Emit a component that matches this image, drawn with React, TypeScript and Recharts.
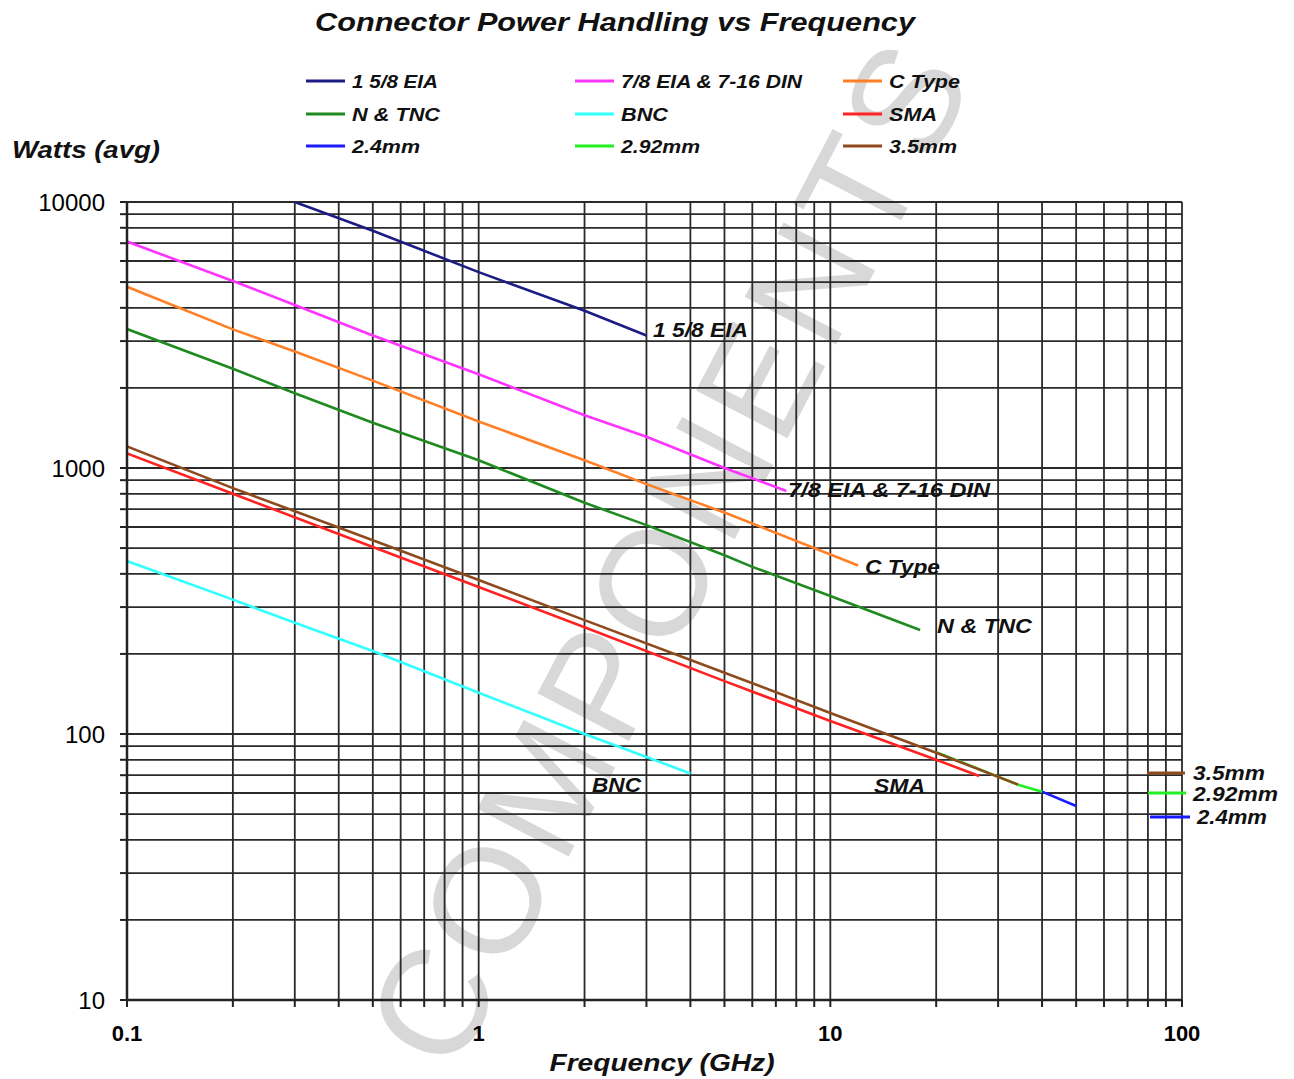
import { LineChart, Line, XAxis, YAxis, CartesianGrid } from 'recharts';

const xTicks = [0.1, 0.2, 0.3, 0.4, 0.5, 0.6, 0.7, 0.8, 0.9, 1, 2, 3, 4, 5, 6, 7, 8, 9, 10, 20, 30, 40, 50, 60, 70, 80, 90, 100];
const yTicks = [10, 20, 30, 40, 50, 60, 70, 80, 90, 100, 200, 300, 400, 500, 600, 700, 800, 900, 1000, 2000, 3000, 4000, 5000, 6000, 7000, 8000, 9000, 10000];
const xLabels = [0.1, 1, 10, 100];
const yLabels = [10, 100, 1000, 10000];

// frequency (GHz) / watts (avg)
const eia158 = [
  { f: 0.3, w: 10000 }, { f: 0.5, w: 7800 }, { f: 1, w: 5450 }, { f: 2, w: 3900 }, { f: 3, w: 3150 },
];
const eia78 = [
  { f: 0.1, w: 7100 }, { f: 0.2, w: 5050 }, { f: 0.3, w: 4100 }, { f: 0.5, w: 3150 }, { f: 1, w: 2250 },
  { f: 2, w: 1580 }, { f: 3, w: 1310 }, { f: 5, w: 1000 }, { f: 7.5, w: 820 },
];
const cType = [
  { f: 0.1, w: 4800 }, { f: 0.2, w: 3320 }, { f: 0.3, w: 2740 }, { f: 0.5, w: 2130 }, { f: 1, w: 1495 },
  { f: 2, w: 1070 }, { f: 3, w: 870 }, { f: 5, w: 680 }, { f: 12, w: 430 },
];
const nTnc = [
  { f: 0.1, w: 3330 }, { f: 0.2, w: 2360 }, { f: 0.3, w: 1910 }, { f: 0.5, w: 1480 }, { f: 1, w: 1070 },
  { f: 2, w: 740 }, { f: 3, w: 610 }, { f: 5, w: 470 }, { f: 6, w: 425 }, { f: 10, w: 330 }, { f: 18, w: 246 },
];
const bnc = [
  { f: 0.1, w: 447 }, { f: 0.2, w: 320 }, { f: 0.3, w: 262 }, { f: 0.5, w: 205 }, { f: 1, w: 143 },
  { f: 2, w: 100 }, { f: 3, w: 82 }, { f: 4, w: 71 },
];
const sma = [
  { f: 0.1, w: 1135 }, { f: 0.2, w: 800 }, { f: 0.5, w: 505 }, { f: 1, w: 357 }, { f: 2, w: 252 },
  { f: 5, w: 158 }, { f: 10, w: 112 }, { f: 20, w: 80 }, { f: 26.5, w: 69.5 },
];
const mm35 = [
  { f: 0.1, w: 1205 }, { f: 0.2, w: 840 }, { f: 0.5, w: 535 }, { f: 1, w: 379 }, { f: 2, w: 268 },
  { f: 5, w: 170 }, { f: 10, w: 120 }, { f: 20, w: 85 }, { f: 34.2, w: 64.5 },
];
const mm292 = [
  { f: 20, w: 85.5 }, { f: 34.2, w: 64.5 }, { f: 40, w: 60.7 },
];
const mm24 = [
  { f: 40, w: 60.7 }, { f: 50, w: 53.6 },
];

const series = [
  { name: 'BNC', color: '#33ffff', data: bnc },
  { name: 'N & TNC', color: '#1f8a1f', data: nTnc },
  { name: 'C Type', color: '#ff7f27', data: cType },
  { name: '7/8 EIA & 7-16 DIN', color: '#ff33ff', data: eia78 },
  { name: '1 5/8 EIA', color: '#1c1c84', data: eia158 },
  { name: 'SMA', color: '#ff2222', data: sma },
  { name: '2.4mm', color: '#1a1aff', data: mm24 },
  { name: '2.92mm', color: '#22ee22', data: mm292 },
  { name: '3.5mm', color: '#8e4a1c', data: mm35 },
];

const legendRows = [
  ['1 5/8 EIA', '7/8 EIA & 7-16 DIN', 'C Type'],
  ['N & TNC', 'BNC', 'SMA'],
  ['2.4mm', '2.92mm', '3.5mm'],
];

const FONT = '"Liberation Sans", Arial, sans-serif';
const colorOf = (n: string) => series.find((s) => s.name === n)!.color;

function T({ x, y, w, size, children, anchor }: any) {
  return (
    <text x={x} y={y} fontSize={size} fontWeight="bold" fontStyle="italic" fontFamily={FONT}
      fill="#111" textLength={w} lengthAdjust="spacingAndGlyphs" textAnchor={anchor || 'start'}>
      {children}
    </text>
  );
}

const legendX = [306, 575, 843];
const legendW = [[86, 181, 71], [88, 47, 48], [68, 79, 68]];
const legendY = [81, 114, 146];

export default function App() {
  return (
    <div style={{ position: 'fixed', left: 0, top: 0, width: 1294, height: 1079, background: '#fff', overflow: 'hidden' }}>
      <svg width={1294} height={1079} style={{ position: 'absolute', left: 0, top: 0 }}>
        <text x={0} y={0} transform="translate(679,560) rotate(-62.4)" textAnchor="middle" dominantBaseline="middle"
          fontFamily={FONT} fontSize={150} fill="#d8d8d8" textLength={1125} lengthAdjust="spacing">
          COMPONENTS
        </text>
      </svg>
      <div style={{ position: 'absolute', left: 0, top: 0 }}>
        <LineChart width={1294} height={1079} margin={{ top: 202, right: 112, bottom: 39, left: 7 }}>
          <CartesianGrid stroke="#2a2a2a" strokeWidth={1.8} />
          <XAxis dataKey="f" type="number" scale="log" domain={[0.1, 100]} ticks={xTicks} allowDataOverflow
            height={40} tickSize={7} tickMargin={18} interval={0}
            tickFormatter={(v: number) => (xLabels.includes(v) ? String(v) : '')}
            tick={{ fontSize: 22, fontWeight: 'bold', fill: '#000', fontFamily: FONT }}
            axisLine={{ stroke: '#222', strokeWidth: 2.5 }} tickLine={{ stroke: '#222', strokeWidth: 2 }} />
          <YAxis dataKey="w" type="number" scale="log" domain={[10, 10000]} ticks={yTicks} allowDataOverflow
            width={120} tickSize={7} tickMargin={15} interval={0}
            tickFormatter={(v: number) => (yLabels.includes(v) ? String(v) : '')}
            tick={{ fontSize: 24, fill: '#000', fontFamily: FONT }}
            axisLine={{ stroke: '#222', strokeWidth: 2.5 }} tickLine={{ stroke: '#222', strokeWidth: 2 }} />
          {series.map((s) => (
            <Line key={s.name} data={s.data} dataKey="w" type="linear" stroke={s.color} strokeWidth={2.6}
              dot={false} isAnimationActive={false} />
          ))}
        </LineChart>
      </div>
      <svg width={1294} height={1079} style={{ position: 'absolute', left: 0, top: 0, pointerEvents: 'none' }}>
        <T x={615} y={31} w={600} size={26} anchor="middle">Connector Power Handling vs Frequency</T>
        {legendRows.map((row, r) =>
          row.map((name, c) => (
            <g key={name}>
              <line x1={legendX[c]} x2={legendX[c] + 39} y1={legendY[r]} y2={legendY[r]} stroke={colorOf(name)} strokeWidth={3} />
              <T x={legendX[c] + 46} y={legendY[r] + 7} w={legendW[r][c]} size={19}>{name}</T>
            </g>
          ))
        )}
        <T x={12} y={158} w={148} size={23}>Watts (avg)</T>
        <T x={662} y={1071} w={225} size={24} anchor="middle">Frequency (GHz)</T>
        <T x={653} y={337} w={95} size={20}>1 5/8 EIA</T>
        <T x={788} y={497} w={202} size={20}>7/8 EIA &amp; 7-16 DIN</T>
        <T x={865} y={574} w={75} size={20}>C Type</T>
        <T x={937} y={633} w={95} size={20}>N &amp; TNC</T>
        <T x={592} y={792} w={49} size={20}>BNC</T>
        <T x={874} y={793} w={51} size={20}>SMA</T>
        <line x1={1147} x2={1185} y1={773} y2={773} stroke={colorOf('3.5mm')} strokeWidth={3} />
        <line x1={1148} x2={1186} y1={793} y2={793} stroke={colorOf('2.92mm')} strokeWidth={3} />
        <line x1={1150} x2={1190} y1={817} y2={817} stroke={colorOf('2.4mm')} strokeWidth={3} />
        <T x={1193} y={780} w={72} size={20}>3.5mm</T>
        <T x={1193} y={801} w={85} size={20}>2.92mm</T>
        <T x={1197} y={824} w={70} size={20}>2.4mm</T>
      </svg>
    </div>
  );
}
